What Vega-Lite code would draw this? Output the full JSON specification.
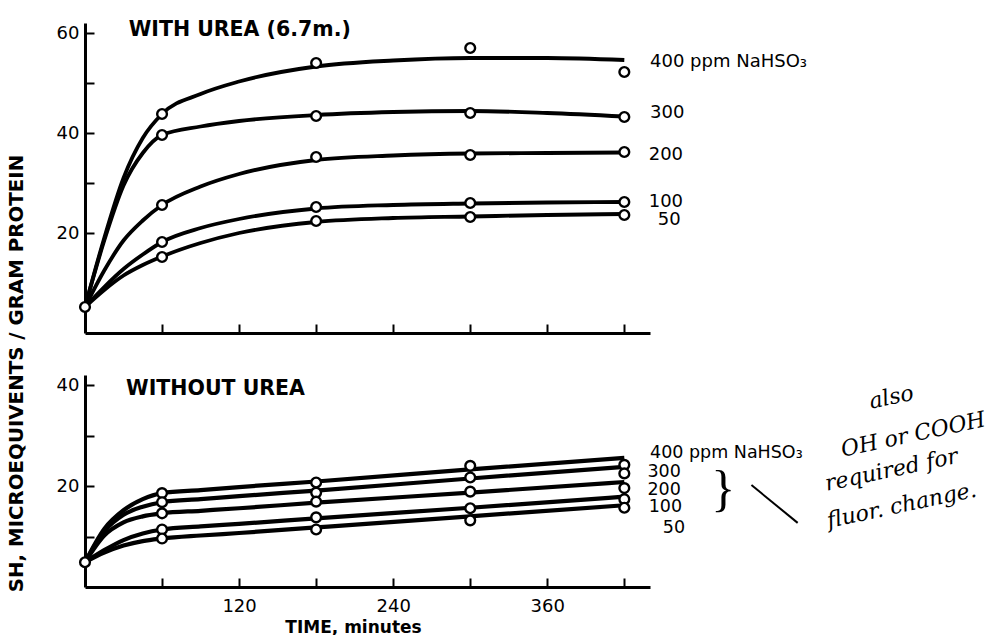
{
  "$schema": "https://vega.github.io/schema/vega-lite/v6.json",
  "background": "white",
  "padding": {"left": 6, "top": 20, "right": 0, "bottom": 0},
  "autosize": {"type": "pad"},
  "bounds": "flush",
  "spacing": 42,
  "datasets": {
    "top_curve": [
      {"series": "400", "t": 0, "v": 5.2}, {"series": "400", "t": 15, "v": 19}, {"series": "400", "t": 30, "v": 31}, {"series": "400", "t": 45, "v": 39}, {"series": "400", "t": 60, "v": 43.8}, {"series": "400", "t": 90, "v": 47.8}, {"series": "400", "t": 120, "v": 50.3}, {"series": "400", "t": 180, "v": 53.3}, {"series": "400", "t": 240, "v": 54.5}, {"series": "400", "t": 300, "v": 55}, {"series": "400", "t": 360, "v": 55}, {"series": "400", "t": 420, "v": 54.6},
      {"series": "300", "t": 0, "v": 5.2}, {"series": "300", "t": 15, "v": 18.5}, {"series": "300", "t": 30, "v": 29.5}, {"series": "300", "t": 45, "v": 36}, {"series": "300", "t": 60, "v": 39.6}, {"series": "300", "t": 90, "v": 41.3}, {"series": "300", "t": 120, "v": 42.4}, {"series": "300", "t": 180, "v": 43.6}, {"series": "300", "t": 240, "v": 44.2}, {"series": "300", "t": 300, "v": 44.4}, {"series": "300", "t": 360, "v": 44}, {"series": "300", "t": 420, "v": 43.3},
      {"series": "200", "t": 0, "v": 5.2}, {"series": "200", "t": 15, "v": 12.5}, {"series": "200", "t": 30, "v": 18.5}, {"series": "200", "t": 45, "v": 22.5}, {"series": "200", "t": 60, "v": 25.6}, {"series": "200", "t": 90, "v": 29.3}, {"series": "200", "t": 120, "v": 31.8}, {"series": "200", "t": 180, "v": 34.6}, {"series": "200", "t": 240, "v": 35.5}, {"series": "200", "t": 300, "v": 35.9}, {"series": "200", "t": 360, "v": 36}, {"series": "200", "t": 420, "v": 36.1},
      {"series": "100", "t": 0, "v": 5.2}, {"series": "100", "t": 15, "v": 9.2}, {"series": "100", "t": 30, "v": 12.8}, {"series": "100", "t": 45, "v": 15.7}, {"series": "100", "t": 60, "v": 18.2}, {"series": "100", "t": 90, "v": 21}, {"series": "100", "t": 120, "v": 22.8}, {"series": "100", "t": 180, "v": 24.9}, {"series": "100", "t": 240, "v": 25.6}, {"series": "100", "t": 300, "v": 25.9}, {"series": "100", "t": 360, "v": 26.1}, {"series": "100", "t": 420, "v": 26.2},
      {"series": "50", "t": 0, "v": 5.2}, {"series": "50", "t": 15, "v": 8.6}, {"series": "50", "t": 30, "v": 11.5}, {"series": "50", "t": 45, "v": 13.6}, {"series": "50", "t": 60, "v": 15.3}, {"series": "50", "t": 90, "v": 18}, {"series": "50", "t": 120, "v": 20}, {"series": "50", "t": 180, "v": 22.2}, {"series": "50", "t": 240, "v": 23}, {"series": "50", "t": 300, "v": 23.3}, {"series": "50", "t": 360, "v": 23.6}, {"series": "50", "t": 420, "v": 23.8}
    ],
    "top_obs": [
      {"series": "all", "t": 0, "v": 5.2},
      {"series": "400", "t": 60, "v": 43.8}, {"series": "400", "t": 180, "v": 54}, {"series": "400", "t": 300, "v": 57}, {"series": "400", "t": 420, "v": 52.2},
      {"series": "300", "t": 60, "v": 39.6}, {"series": "300", "t": 180, "v": 43.4}, {"series": "300", "t": 300, "v": 44}, {"series": "300", "t": 420, "v": 43.2},
      {"series": "200", "t": 60, "v": 25.6}, {"series": "200", "t": 180, "v": 35.2}, {"series": "200", "t": 300, "v": 35.6}, {"series": "200", "t": 420, "v": 36.2},
      {"series": "100", "t": 60, "v": 18.2}, {"series": "100", "t": 180, "v": 25.2}, {"series": "100", "t": 300, "v": 26}, {"series": "100", "t": 420, "v": 26.2},
      {"series": "50", "t": 60, "v": 15.2}, {"series": "50", "t": 180, "v": 22.4}, {"series": "50", "t": 300, "v": 23.2}, {"series": "50", "t": 420, "v": 23.6}
    ],
    "top_labels": [
      {"label": "400 ppm NaHSO₃", "t": 440, "v": 54.2},
      {"label": "300", "t": 440, "v": 44},
      {"label": "200", "t": 439, "v": 35.6},
      {"label": "100", "t": 439, "v": 26.2},
      {"label": "50", "t": 446, "v": 22.6}
    ],
    "bottom_curve": [
      {"series": "400", "t": 0, "v": 4.9}, {"series": "400", "t": 15, "v": 11.5}, {"series": "400", "t": 30, "v": 15.2}, {"series": "400", "t": 45, "v": 17.4}, {"series": "400", "t": 60, "v": 18.6}, {"series": "400", "t": 90, "v": 19.2}, {"series": "400", "t": 120, "v": 19.8}, {"series": "400", "t": 180, "v": 20.9}, {"series": "400", "t": 300, "v": 23.3}, {"series": "400", "t": 420, "v": 25.6},
      {"series": "300", "t": 0, "v": 4.9}, {"series": "300", "t": 15, "v": 11}, {"series": "300", "t": 30, "v": 14.3}, {"series": "300", "t": 45, "v": 15.9}, {"series": "300", "t": 60, "v": 16.8}, {"series": "300", "t": 90, "v": 17.4}, {"series": "300", "t": 120, "v": 18}, {"series": "300", "t": 180, "v": 19.1}, {"series": "300", "t": 300, "v": 21.5}, {"series": "300", "t": 420, "v": 23.8},
      {"series": "200", "t": 0, "v": 4.9}, {"series": "200", "t": 15, "v": 10.2}, {"series": "200", "t": 30, "v": 12.8}, {"series": "200", "t": 45, "v": 14}, {"series": "200", "t": 60, "v": 14.6}, {"series": "200", "t": 90, "v": 15.1}, {"series": "200", "t": 120, "v": 15.6}, {"series": "200", "t": 180, "v": 16.7}, {"series": "200", "t": 300, "v": 18.7}, {"series": "200", "t": 420, "v": 20.8},
      {"series": "100", "t": 0, "v": 4.9}, {"series": "100", "t": 15, "v": 7.3}, {"series": "100", "t": 30, "v": 9.3}, {"series": "100", "t": 45, "v": 10.6}, {"series": "100", "t": 60, "v": 11.4}, {"series": "100", "t": 90, "v": 12}, {"series": "100", "t": 120, "v": 12.5}, {"series": "100", "t": 180, "v": 13.6}, {"series": "100", "t": 300, "v": 15.7}, {"series": "100", "t": 420, "v": 17.9},
      {"series": "50", "t": 0, "v": 4.9}, {"series": "50", "t": 15, "v": 6.8}, {"series": "50", "t": 30, "v": 8.2}, {"series": "50", "t": 45, "v": 9.1}, {"series": "50", "t": 60, "v": 9.6}, {"series": "50", "t": 90, "v": 10.2}, {"series": "50", "t": 120, "v": 10.7}, {"series": "50", "t": 180, "v": 11.8}, {"series": "50", "t": 300, "v": 14}, {"series": "50", "t": 420, "v": 16.2}
    ],
    "bottom_obs": [
      {"series": "all", "t": 0, "v": 4.9},
      {"series": "400", "t": 60, "v": 18.6}, {"series": "400", "t": 180, "v": 20.7}, {"series": "400", "t": 300, "v": 24}, {"series": "400", "t": 420, "v": 24.2},
      {"series": "300", "t": 60, "v": 16.8}, {"series": "300", "t": 180, "v": 18.7}, {"series": "300", "t": 300, "v": 21.7}, {"series": "300", "t": 420, "v": 22.5},
      {"series": "200", "t": 60, "v": 14.6}, {"series": "200", "t": 180, "v": 16.9}, {"series": "200", "t": 300, "v": 18.9}, {"series": "200", "t": 420, "v": 19.6},
      {"series": "100", "t": 60, "v": 11.4}, {"series": "100", "t": 180, "v": 13.8}, {"series": "100", "t": 300, "v": 15.6}, {"series": "100", "t": 420, "v": 17.4},
      {"series": "50", "t": 60, "v": 9.6}, {"series": "50", "t": 180, "v": 11.4}, {"series": "50", "t": 300, "v": 13.2}, {"series": "50", "t": 420, "v": 15.7}
    ],
    "bottom_labels": [
      {"label": "400 ppm NaHSO₃", "t": 440, "v": 26.5},
      {"label": "300", "t": 438, "v": 22.8},
      {"label": "200", "t": 438, "v": 19.2},
      {"label": "100", "t": 439, "v": 15.8},
      {"label": "50", "t": 450, "v": 11.7}
    ],
    "notes": [
      {"note": "also", "t": 628, "v": 37.6},
      {"note": "OH or COOH", "t": 645, "v": 30.2},
      {"note": "required for", "t": 628, "v": 23.2},
      {"note": "fluor. change.", "t": 636, "v": 16.2}
    ],
    "one": [{}]
  },
  "vconcat": [
    {
      "width": 565,
      "height": 310,
      "layer": [
        {
          "data": {"name": "top_curve"},
          "mark": {"type": "line", "interpolate": "monotone", "color": "black", "strokeWidth": 3.8},
          "encoding": {
            "x": {"field": "t", "type": "quantitative", "scale": {"domain": [0, 440], "nice": false},
              "axis": {"values": [60, 120, 180, 240, 300, 360, 420], "labels": false, "title": null}},
            "y": {"field": "v", "type": "quantitative", "scale": {"domain": [0, 62], "nice": false},
              "axis": {"values": [20, 30, 40, 50, 60], "labelExpr": "datum.value % 20 == 0 ? datum.label : ''",
                "title": "SH, MICROEQUIVENTS / GRAM PROTEIN", "titleX": -69, "titleY": 350, "titleAngle": 270,
                "titleBaseline": "middle", "titleAlign": "center", "titleFontSize": 19.8, "titleFontWeight": "bold", "titleFont": "DejaVu Sans", "titleColor": "black"}},
            "detail": {"field": "series"}
          }
        },
        {
          "data": {"name": "top_obs"},
          "mark": {"type": "point", "shape": "circle", "filled": true, "fill": "white", "stroke": "black", "strokeWidth": 2.4, "size": 95, "opacity": 1},
          "encoding": {"x": {"field": "t", "type": "quantitative"}, "y": {"field": "v", "type": "quantitative"}}
        },
        {
          "data": {"name": "top_labels"},
          "mark": {"type": "text", "align": "left", "baseline": "middle", "fontSize": 18, "font": "DejaVu Sans", "color": "black"},
          "encoding": {"x": {"field": "t", "type": "quantitative"}, "y": {"field": "v", "type": "quantitative"}, "text": {"field": "label"}}
        },
        {
          "data": {"name": "one"},
          "mark": {"type": "text", "align": "left", "baseline": "alphabetic", "fontSize": 20.5, "fontWeight": "bold", "font": "DejaVu Sans", "color": "black"},
          "encoding": {"x": {"datum": 34}, "y": {"datum": 59.4}, "text": {"value": "WITH UREA (6.7m.)"}}
        }
      ]
    },
    {
      "width": 565,
      "height": 212,
      "layer": [
        {
          "data": {"name": "bottom_curve"},
          "mark": {"type": "line", "interpolate": "monotone", "color": "black", "strokeWidth": 4.2},
          "encoding": {
            "x": {"field": "t", "type": "quantitative", "scale": {"domain": [0, 440], "nice": false},
              "axis": {"values": [60, 120, 180, 240, 300, 360, 420], "labelExpr": "datum.value % 120 == 0 ? datum.label : ''",
                "labelPadding": 19, "title": "TIME, minutes", "titleX": 268, "titleY": 40, "titleBaseline": "middle", "titleAlign": "center",
                "titleFontSize": 17, "titleFontWeight": "bold", "titleFont": "DejaVu Sans", "titleColor": "black"}},
            "y": {"field": "v", "type": "quantitative", "scale": {"domain": [0, 42], "nice": false},
              "axis": {"values": [10, 20, 30, 40], "labelExpr": "datum.value % 20 == 0 ? datum.label : ''", "title": null}},
            "detail": {"field": "series"}
          }
        },
        {
          "data": {"name": "bottom_obs"},
          "mark": {"type": "point", "shape": "circle", "filled": true, "fill": "white", "stroke": "black", "strokeWidth": 2.4, "size": 95, "opacity": 1},
          "encoding": {"x": {"field": "t", "type": "quantitative"}, "y": {"field": "v", "type": "quantitative"}}
        },
        {
          "data": {"name": "bottom_labels"},
          "mark": {"type": "text", "align": "left", "baseline": "middle", "fontSize": 17.5, "font": "DejaVu Sans", "color": "black"},
          "encoding": {"x": {"field": "t", "type": "quantitative"}, "y": {"field": "v", "type": "quantitative"}, "text": {"field": "label"}}
        },
        {
          "data": {"name": "notes"},
          "mark": {"type": "text", "align": "center", "baseline": "middle", "fontSize": 22, "font": "DejaVu Serif", "fontStyle": "italic", "angle": 348, "color": "black"},
          "encoding": {"x": {"field": "t", "type": "quantitative"}, "y": {"field": "v", "type": "quantitative"}, "text": {"field": "note"}}
        },
        {
          "data": {"name": "one"},
          "mark": {"type": "text", "align": "left", "baseline": "alphabetic", "fontSize": 20.5, "fontWeight": "bold", "font": "DejaVu Sans", "color": "black"},
          "encoding": {"x": {"datum": 32}, "y": {"datum": 38}, "text": {"value": "WITHOUT  UREA"}}
        },
        {
          "data": {"name": "one"},
          "mark": {"type": "text", "align": "center", "baseline": "middle", "fontSize": 50, "font": "Liberation Serif", "color": "black"},
          "encoding": {"x": {"datum": 497}, "y": {"datum": 19.2}, "text": {"value": "}"}}
        },
        {
          "data": {"name": "one"},
          "mark": {"type": "rule", "color": "black", "strokeWidth": 2},
          "encoding": {"x": {"datum": 519}, "y": {"datum": 20.2}, "x2": {"datum": 555}, "y2": {"datum": 12.7}}
        }
      ]
    }
  ],
  "config": {
    "view": {"stroke": null},
    "axis": {"grid": false, "domainColor": "black", "domainWidth": 3, "tickColor": "black", "tickWidth": 2, "tickSize": -9,
      "labelFont": "DejaVu Sans", "labelFontSize": 18, "labelColor": "black", "labelPadding": 15}
  }
}
